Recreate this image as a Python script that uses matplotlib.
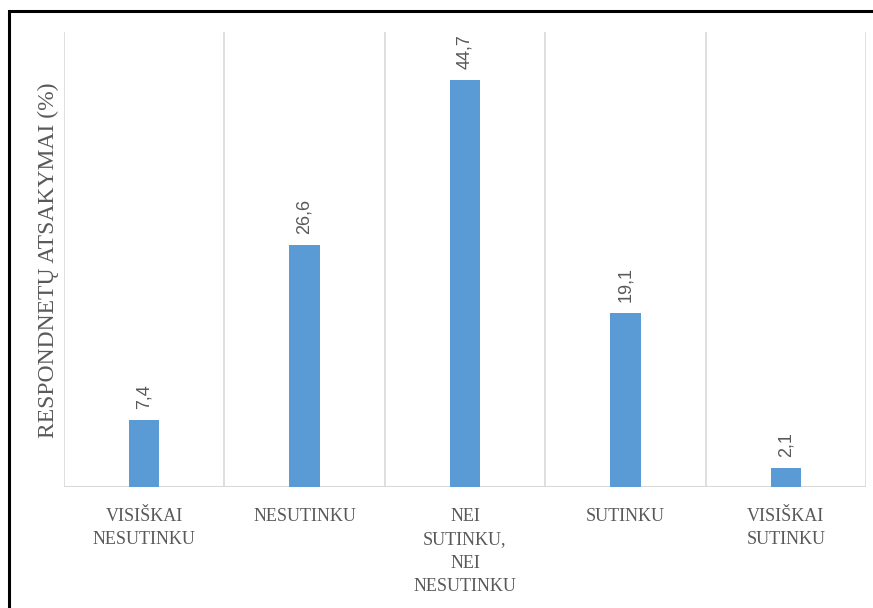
import matplotlib
matplotlib.use("Agg")
import matplotlib.pyplot as plt
from matplotlib.patches import Rectangle

categories = ["VISIŠKAI\nNESUTINKU", "NESUTINKU", "NEI\nSUTINKU,\nNEI\nNESUTINKU",
              "SUTINKU", "VISIŠKAI\nSUTINKU"]
values = [7.4, 26.6, 44.7, 19.1, 2.1]
value_labels = ["7,4", "26,6", "44,7", "19,1", "2,1"]

BAR_COLOR = "#5B9BD5"
GRID_COLOR = "#D9D9D9"
TEXT_COLOR = "#595959"

fig = plt.figure(figsize=(8.73, 6.08), dpi=100)
fig.patch.set_facecolor("white")

# outer frame (right and bottom edges fall outside the crop)
fig.patches.append(Rectangle((9 / 873, -0.05), 1.1, (608 - 11) / 608 + 0.05,
                             transform=fig.transFigure, fill=False,
                             edgecolor="black", linewidth=2.2))

ax = fig.add_axes([64 / 873, 121 / 608, 802 / 873, 455 / 608])

x = list(range(len(categories)))
ax.bar(x, values, width=0.19, color=BAR_COLOR, zorder=3)

ax.set_xlim(-0.5, len(categories) - 0.5)
ax.set_ylim(0, 50)

# vertical separators between categories
for b in [i - 0.5 for i in range(len(categories) + 1)]:
    ax.axvline(b, color=GRID_COLOR, linewidth=1.2, zorder=1)
ax.axhline(0, color=GRID_COLOR, linewidth=1.5, zorder=2)

for side in ["top", "right", "left", "bottom"]:
    ax.spines[side].set_visible(False)

ax.set_yticks([])
ax.set_xticks(x)
ax.set_xticklabels(categories, fontfamily="Liberation Serif", fontsize=13,
                   color=TEXT_COLOR, linespacing=1.5)
ax.tick_params(axis="x", length=0, pad=15)

for xi, v, lab in zip(x, values, value_labels):
    ax.annotate(lab, (xi, v), xytext=(0, 8), textcoords="offset points",
                rotation=90, ha="center", va="bottom", fontsize=13,
                fontfamily="Liberation Sans", color=TEXT_COLOR)

fig.text(48 / 873, 1 - 260 / 608, "RESPONDNETŲ ATSAKYMAI (%)", rotation=90,
         ha="center", va="center", fontsize=17, fontfamily="Liberation Serif",
         color=TEXT_COLOR)

fig.savefig("out.png", dpi=100)
